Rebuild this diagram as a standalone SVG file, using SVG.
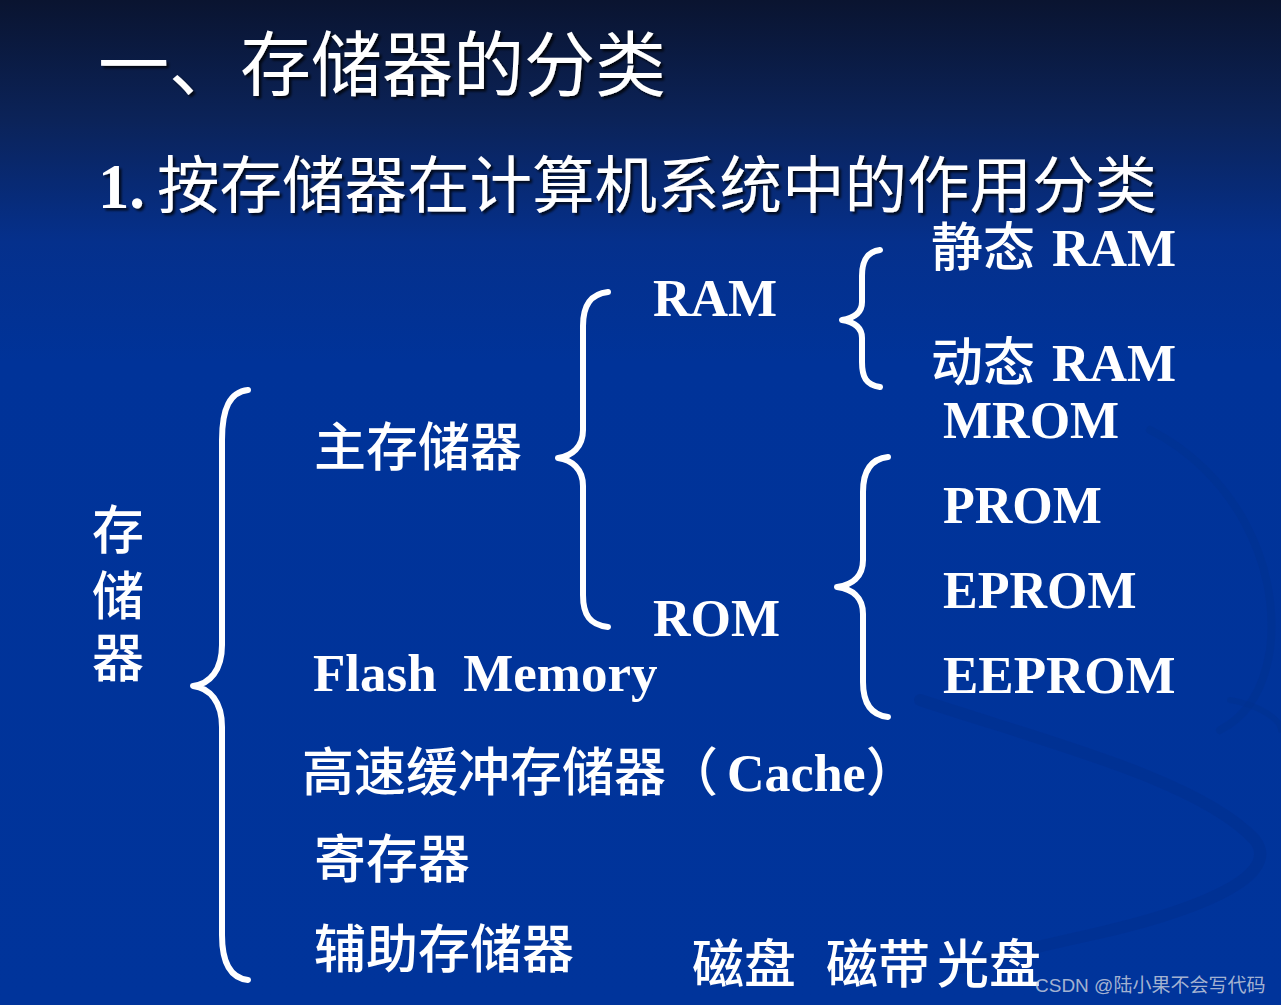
<svg xmlns="http://www.w3.org/2000/svg" width="1281" height="1005" viewBox="0 0 1281 1005">
<defs>
<linearGradient id="bg" x1="0" y1="0" x2="0" y2="1">
<stop offset="0" stop-color="#0a1430"/>
<stop offset="0.12" stop-color="#0b2359"/>
<stop offset="0.24" stop-color="#05308c"/>
<stop offset="0.36" stop-color="#003399"/>
<stop offset="1" stop-color="#00349b"/>
</linearGradient>
<filter id="sh" x="-5%" y="-20%" width="110%" height="140%">
<feDropShadow dx="2.5" dy="2.5" stdDeviation="1" flood-color="#000" flood-opacity="0.75"/>
</filter>
</defs>
<style>
.cjk{font-family:"Noto Sans CJK SC",sans-serif;fill:#fff}
.b{font-weight:500}
.lat{font-family:"Liberation Serif","Noto Sans CJK SC",serif;font-weight:bold;fill:#fff}
.brace{fill:none;stroke:#fff;stroke-width:6;stroke-linecap:round;stroke-linejoin:round}
.wm{font-family:"Liberation Sans","Noto Sans CJK SC",sans-serif;font-size:19px;fill:#d0d4e0;fill-opacity:0.8}
</style>
<rect width="1281" height="1005" fill="url(#bg)"/>
<g id="swoosh" fill="none" stroke-linecap="round">
<path d="M920,700 C1040,740 1200,780 1255,840 C1285,880 1180,915 1090,935 C1040,946 990,958 960,968" stroke="#002f8e" stroke-width="12" opacity="0.55"/>
<path d="M1150,430 C1230,470 1281,560 1270,650 C1262,700 1240,720 1220,730" stroke="#00318f" stroke-width="8" opacity="0.45"/>
<path d="M1230,700 C1260,705 1281,720 1281,730" stroke="#00308e" stroke-width="6" opacity="0.45"/>
</g>
<g id="title" filter="url(#sh)">
<text class="cjk" x="98" y="90" font-size="71">一、存储器的分类</text>
<text x="98" y="208" font-size="62.5"><tspan font-family="Liberation Serif, serif" font-weight="bold" fill="#fff">1. </tspan><tspan class="cjk" x="157">按存储器在计算机系统中的作用分类</tspan></text>
</g>
<g id="connectors">
<path class="brace" d="M248,390 C230,392 222,408 222,440 L222,645 C222,670 210,684 193,686 C210,688 222,702 222,727 L222,935 C222,962 230,978 248,980"/>
<path class="brace" d="M608,292 C590,294 583,306 583,326 L583,430 C583,447 572,456 558,458 C572,460 583,469 583,486 L583,595 C583,615 590,625 608,627"/>
<path class="brace" d="M880,250 C866,252 862,262 862,276 L862,302 C862,313 854,318 842,320 C854,322 862,327 862,338 L862,362 C862,377 866,385 880,387"/>
<path class="brace" d="M888,457 C870,459 863,472 863,492 L863,560 C863,577 852,585 837,587 C852,589 863,597 863,614 L863,682 C863,702 870,715 888,717"/>
</g>
<g id="node-storage"><text class="cjk b" font-size="52"><tspan x="92" y="549">存</tspan><tspan x="92" y="615">储</tspan><tspan x="92" y="677">器</tspan></text></g>
<g id="node-main"><text class="cjk b" x="314" y="466" font-size="52">主存储器</text></g>
<g id="node-ram"><text class="lat" x="653" y="316" font-size="52">RAM</text></g>
<g id="node-rom"><text class="lat" x="653" y="636" font-size="52">ROM</text></g>
<g id="node-sram"><text x="931" y="266" font-size="52"><tspan class="cjk b">静态</tspan><tspan class="lat" x="1052">RAM</tspan></text></g>
<g id="node-dram"><text x="931" y="381" font-size="52"><tspan class="cjk b">动态</tspan><tspan class="lat" x="1052">RAM</tspan></text></g>
<g id="node-mrom"><text class="lat" x="943" y="438" font-size="52">MROM</text></g>
<g id="node-prom"><text class="lat" x="943" y="523" font-size="52">PROM</text></g>
<g id="node-eprom"><text class="lat" x="943" y="608" font-size="52">EPROM</text></g>
<g id="node-eeprom"><text class="lat" x="943" y="693" font-size="53">EEPROM</text></g>
<g id="node-flash"><text class="lat" x="313" y="691" font-size="53" xml:space="preserve">Flash  Memory</text></g>
<g id="node-cache"><text x="302" y="791" font-size="52"><tspan class="cjk b">高速缓冲存储器（</tspan><tspan class="lat" x="727">Cache</tspan><tspan class="cjk b">）</tspan></text></g>
<g id="node-reg"><text class="cjk b" x="314" y="878" font-size="52">寄存器</text></g>
<g id="node-aux"><text class="cjk b" x="314" y="968" font-size="52">辅助存储器</text></g>
<g id="node-media"><text class="cjk b" font-size="52" y="983"><tspan x="692">磁盘</tspan><tspan x="826">磁带</tspan><tspan x="937">光盘</tspan></text></g>
<text class="wm" x="1035" y="992">CSDN @陆小果不会写代码</text>
</svg>
